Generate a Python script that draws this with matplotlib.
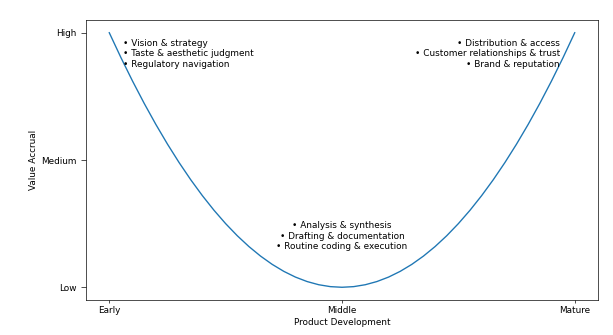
import matplotlib
matplotlib.use("Agg")
import matplotlib.pyplot as plt

# Stage positions (-1 = Early, 0 = Middle, 1 = Mature) and value accrual
stage = [-1.00, -0.95, -0.90, -0.85, -0.80, -0.75, -0.70, -0.65, -0.60, -0.55, -0.50,
         -0.45, -0.40, -0.35, -0.30, -0.25, -0.20, -0.15, -0.10, -0.05, 0.00,
         0.05, 0.10, 0.15, 0.20, 0.25, 0.30, 0.35, 0.40, 0.45, 0.50,
         0.55, 0.60, 0.65, 0.70, 0.75, 0.80, 0.85, 0.90, 0.95, 1.00]
value = [1.0000, 0.9025, 0.8100, 0.7225, 0.6400, 0.5625, 0.4900, 0.4225, 0.3600, 0.3025, 0.2500,
         0.2025, 0.1600, 0.1225, 0.0900, 0.0625, 0.0400, 0.0225, 0.0100, 0.0025, 0.0000,
         0.0025, 0.0100, 0.0225, 0.0400, 0.0625, 0.0900, 0.1225, 0.1600, 0.2025, 0.2500,
         0.3025, 0.3600, 0.4225, 0.4900, 0.5625, 0.6400, 0.7225, 0.8100, 0.9025, 1.0000]

x_ticks = [-1, 0, 1]
x_labels = ["Early", "Middle", "Mature"]
y_ticks = [0, 0.5, 1]
y_labels = ["Low", "Medium", "High"]

left_text = ["Vision & strategy", "Taste & aesthetic judgment", "Regulatory navigation"]
right_text = ["Distribution & access", "Customer relationships & trust", "Brand & reputation"]
middle_text = ["Analysis & synthesis", "Drafting & documentation", "Routine coding & execution"]

plt.rcParams["font.size"] = 10.5

dpi = 61.3
fig = plt.figure(figsize=(613 / dpi, 335 / dpi), dpi=dpi)
ax = fig.add_axes([86 / 613, 1 - 300 / 335, (598 - 86) / 613, (300 - 20) / 335])

ax.plot(stage, value, color="tab:blue", linewidth=1.6, solid_joinstyle="round")

ax.set_xticks(x_ticks)
ax.set_xticklabels(x_labels)
ax.set_yticks(y_ticks)
ax.set_yticklabels(y_labels)
ax.tick_params(axis="y", length=6, pad=5)
ax.set_xlabel("Product Development")
ax.set_ylabel("Value Accrual")

def bullets(items):
    return "\n".join("• " + s for s in items)

ax.text(-0.94, 0.917, bullets(left_text), ha="left", va="center")
ax.text(0.936, 0.917, bullets(right_text), ha="right", va="center", multialignment="right")
ax.text(0.0, 0.2, bullets(middle_text), ha="center", va="center", multialignment="center")

fig.savefig("out.png", dpi=dpi)
